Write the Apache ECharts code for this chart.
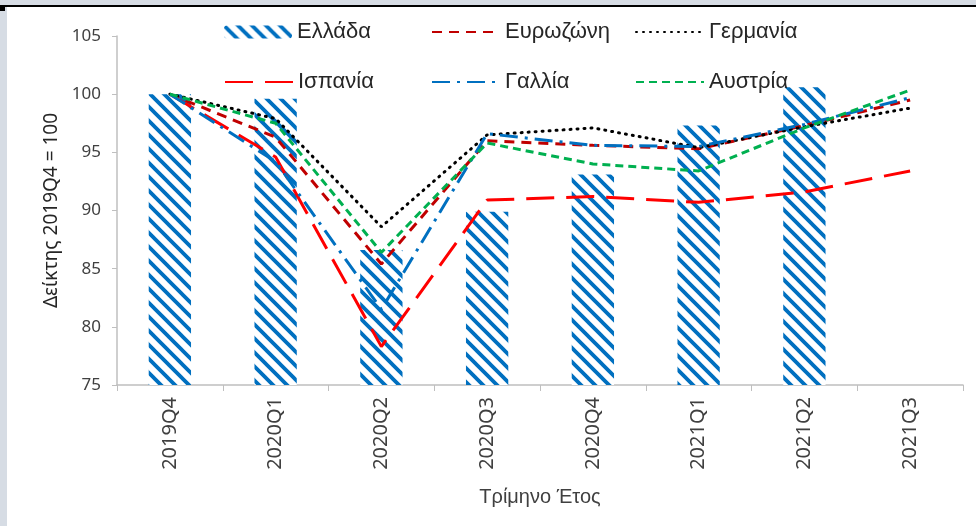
<!DOCTYPE html>
<html>
<head>
<meta charset="utf-8">
<script src="https://cdn.jsdelivr.net/npm/echarts@6/dist/echarts.min.js"></script>
<style>
html,body{margin:0;padding:0;background:#fff;}
#chart{width:976px;height:526px;}
</style>
</head>
<body>
<div id="chart"></div>
<script>
const categories = ['2019Q4','2020Q1','2020Q2','2020Q3','2020Q4','2021Q1','2021Q2','2021Q3'];
const greece   = [100, 99.6, 86.6, 89.9, 93.1, 97.3, 100.6, null];
const eurozone = [100, 96.3, 85.4, 96.0, 95.6, 95.3, 97.3, 99.5];
const germany  = [100, 97.9, 88.6, 96.5, 97.1, 95.4, 97.2, 98.8];
const spain    = [100, 94.6, 78.3, 90.9, 91.2, 90.7, 91.6, 93.4];
const france   = [100, 94.2, 81.5, 96.6, 95.6, 95.5, 97.4, 99.7];
const austria  = [100, 97.5, 86.4, 95.8, 94.0, 93.4, 97.1, 100.35];
const yTicks = [75, 80, 85, 90, 95, 100, 105];

function makePattern() {
  const s = 14;
  const c = document.createElement('canvas');
  c.width = s; c.height = s;
  const ctx = c.getContext('2d');
  ctx.fillStyle = '#ffffff';
  ctx.fillRect(0, 0, s, s);
  ctx.strokeStyle = '#0070C0';
  ctx.lineWidth = 3.8;
  ctx.beginPath();
  for (let k = -1; k <= 1; k++) {
    ctx.moveTo(k * s - 3, -3);
    ctx.lineTo(k * s + s + 3, s + 3);
  }
  ctx.stroke();
  return c;
}
const hatch = { image: makePattern(), repeat: 'repeat' };

const chart = echarts.init(document.getElementById('chart'), null, { renderer: 'canvas' });
const legendFont = { fontFamily: 'Liberation Sans', fontSize: 22, color: '#262626' };
function leg(name, left, top, isLine) {
  const o = {
    data: [name], left: left, top: top, itemWidth: 68, itemHeight: 13,
    itemGap: 0, textStyle: legendFont, selectedMode: false, padding: 0
  };
  if (isLine) o.itemStyle = { opacity: 0 };
  return o;
}
const option = {
  animation: false,
  backgroundColor: '#ffffff',
  graphic: [
    { type: 'rect', shape: { x: 0, y: 0, width: 976, height: 5 }, style: { fill: '#D6DCE4' } },
    { type: 'rect', shape: { x: 0, y: 5, width: 7, height: 521 }, style: { fill: '#D6DCE4' } },
    { type: 'rect', shape: { x: 0, y: 5, width: 976, height: 2 }, style: { fill: '#000000' } },
    { type: 'rect', shape: { x: 0, y: 5, width: 5, height: 6 }, style: { fill: '#000000' } }
  ],
  legend: [
    leg('Ελλάδα', 224, 21, false),
    leg('Ευρωζώνη', 431, 21, true),
    leg('Γερμανία', 635, 21, true),
    leg('Ισπανία', 224, 71, true),
    leg('Γαλλία', 431, 71, true),
    leg('Αυστρία', 635, 71, true)
  ],
  grid: { left: 117, right: 13, top: 36, bottom: 141, containLabel: false },
  xAxis: {
    type: 'category',
    data: categories,
    boundaryGap: true,
    axisLine: { lineStyle: { color: '#BFBFBF', width: 1.5 } },
    axisTick: { show: true, length: 6, lineStyle: { color: '#BFBFBF' } },
    axisLabel: { rotate: 90, margin: 12, fontFamily: 'Noto Sans', fontSize: 20, color: '#404040' },
    name: 'Τρίμηνο Έτος',
    nameLocation: 'middle',
    nameGap: 102,
    nameTextStyle: { fontFamily: 'Liberation Sans', fontSize: 20, color: '#404040' }
  },
  yAxis: {
    type: 'value',
    min: 75, max: 105, interval: 5,
    axisLine: { show: true, lineStyle: { color: '#BFBFBF', width: 1.5 } },
    axisTick: { show: true, length: 5, lineStyle: { color: '#BFBFBF' } },
    splitLine: { show: false },
    axisLabel: { margin: 16, fontFamily: 'Noto Sans', fontSize: 17, color: '#404040',
      formatter: v => yTicks.includes(v) ? String(v) : '' },
    name: 'Δείκτης 2019Q4 = 100',
    nameLocation: 'middle',
    nameGap: 53,
    nameTextStyle: { fontFamily: 'Noto Sans', fontSize: 19, color: '#262626' }
  },
  series: [
    { name: 'Ελλάδα', type: 'bar', data: greece, barWidth: '40%',
      itemStyle: { color: hatch }, z: 1 },
    { name: 'Ευρωζώνη', type: 'line', data: eurozone, symbol: 'none', z: 3,
      lineStyle: { color: '#C00000', width: 3, type: [10, 7] }, itemStyle: { color: '#C00000' } },
    { name: 'Γερμανία', type: 'line', data: germany, symbol: 'none', z: 3,
      lineStyle: { color: '#000000', width: 3, type: [1, 6], cap: 'round' }, itemStyle: { color: '#000000' } },
    { name: 'Ισπανία', type: 'line', data: spain, symbol: 'none', z: 3,
      lineStyle: { color: '#FF0000', width: 3, type: [28, 12] }, itemStyle: { color: '#FF0000' } },
    { name: 'Γαλλία', type: 'line', data: france, symbol: 'none', z: 3,
      lineStyle: { color: '#0070C0', width: 3, type: [18, 7, 3, 7] }, itemStyle: { color: '#0070C0' } },
    { name: 'Αυστρία', type: 'line', data: austria, symbol: 'none', z: 3,
      lineStyle: { color: '#00B050', width: 3, type: [8, 5] }, itemStyle: { color: '#00B050' } }
  ]
};
chart.setOption(option);
</script>
</body>
</html>
